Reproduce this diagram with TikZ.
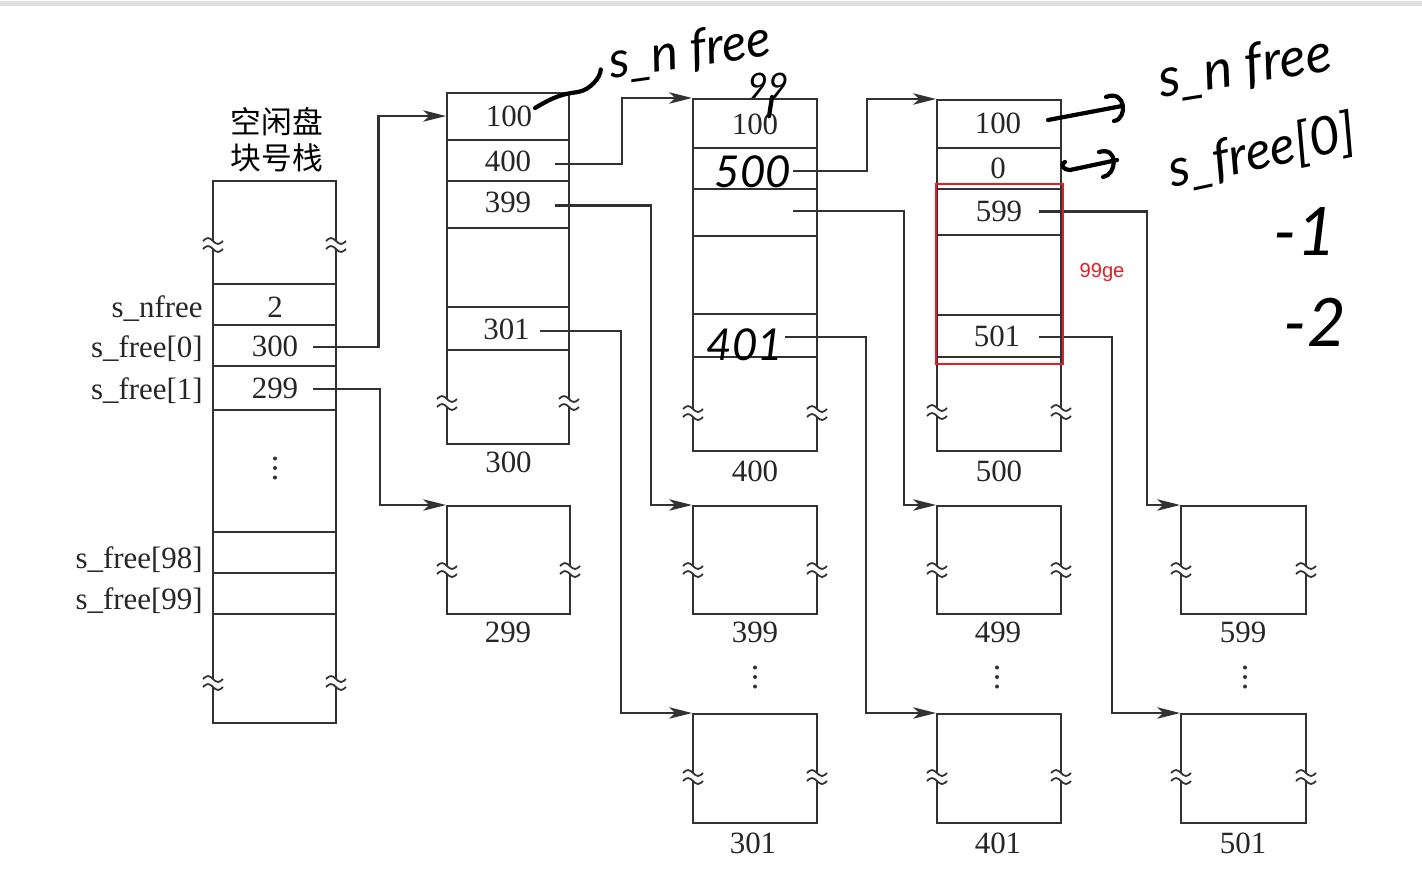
\documentclass[tikz,border=0pt]{standalone}
\usepackage{fontspec}
\setmainfont{Liberation Serif}
\newfontfamily\cjkf{Noto Sans CJK SC}
\newfontfamily\handf{Lato}
\newfontfamily\sansf{Liberation Sans}
\usetikzlibrary{arrows.meta,calc,fit}
\definecolor{redmark}{RGB}{232,28,36}
\definecolor{inkline}{RGB}{50,50,50}

\newcommand\brkmark[2]{%
  \fill[white] (#1-3.5,#2-4) rectangle (#1+3.5,#2+4);
  \draw[brkline] (#1-10,#2-4) sin (#1-5,#2-7) cos (#1,#2-4) sin (#1+5,#2-1) cos (#1+10,#2-4);
  \draw[brkline] (#1-10,#2+4) sin (#1-5,#2+1) cos (#1,#2+4) sin (#1+5,#2+7) cos (#1+10,#2+4);
}
\newcommand\vdotmark[2]{%
  \foreach \dd in {-9.5,0,9.5} \fill[inkline] (#1,#2+\dd) circle (2);
}

\tikzset{
  ln/.style={line width=1.15pt, draw=inkline},
  blk/.style={ln, rectangle, inner sep=0pt},
  con/.style={line width=1.15pt, draw=inkline, -{Stealth[length=13pt,width=6.5pt,inset=3.5pt]}},
  brkline/.style={line width=1pt, draw=inkline},
  val/.style={font=\fontsize{17.6}{20}\selectfont, inner sep=0pt, text=black!85},
  lbl/.style={val, anchor=base east},
  hand/.style={font=\handf\itshape\fontsize{#1}{#1}\selectfont, inner sep=0pt, text=black},
  hstroke/.style={line width=2.4pt, line cap=round, line join=round, draw=black},
}

\begin{document}
\begin{tikzpicture}[x=0.02cm, y=-0.02cm]
\useasboundingbox (0,0) rectangle (1422,880);
\fill[white] (0,0) rectangle (1422,880);
\fill[gray!25] (0,1) rectangle (1422,6);

% ---------- free block stack ----------
\node[font=\cjkf\fontsize{17.5}{20.5}\selectfont, align=center, inner sep=0pt] (T) at (277,140) {空闲盘\\块号栈};
\node[blk, fit={(213,181) (336,722.5)}] (S) {};
\foreach \yy in {284,325,366,410,532,573,614} \draw[ln] (213,\yy) -- (336,\yy);
\brkmark{213}{245}\brkmark{336}{245}
\brkmark{213}{683}\brkmark{336}{683}

\node[lbl] (Ln) at (203,317) {s\_nfree};
\node[lbl] (L0) at (203,357) {s\_free[0]};
\node[lbl] (L1) at (203,399) {s\_free[1]};
\node[lbl] (L98) at (203,568) {s\_free[98]};
\node[lbl] (L99) at (203,609) {s\_free[99]};

\node[val] (sn) at (275,307) {2};
\node[val] (s0) at (275,346) {300};
\node[val] (s1) at (275,388) {299};
\vdotmark{275}{468}

% ---------- block 300 ----------
\node[blk, fit={(447,93) (569,444)}] (B300) {};
\foreach \yy in {140,181,228,307,350} \draw[ln] (447,\yy) -- (569,\yy);
\brkmark{447}{403}\brkmark{569}{403}
\node[val] (v300a) at (509,116) {100};
\node[val] (v300b) at (508,161) {400};
\node[val] (v300c) at (508,202.5) {399};
\node[val] (v300d) at (506.5,329) {301};
\node[val] (n300) at (508.5,462) {300};

% ---------- block 400 ----------
\node[blk, fit={(693,99) (817,451)}] (B400) {};
\foreach \yy in {148,189,236,314,357} \draw[ln] (693,\yy) -- (817,\yy);
\brkmark{693}{413}\brkmark{817}{413}
\node[val] (v400a) at (755,124) {100};
\node[val] (n400) at (755,471) {400};
\coordinate (r400c) at (793,211);

% ---------- block 500 ----------
\node[blk, fit={(937,100) (1061,451)}] (B500) {};
\foreach \yy in {148,189,235,315,357} \draw[ln] (937,\yy) -- (1061,\yy);
\brkmark{937}{412}\brkmark{1061}{412}
\node[val] (v500a) at (998,123) {100};
\node[val] (v500b) at (998,168) {0};
\node[val] (v500c) at (999,211.5) {599};
\node[val] (v500d) at (997,336) {501};
\node[val] (n500) at (999,471) {500};

% ---------- lower blocks ----------
\node[blk, fit={(447,506) (570,614)}] (B299) {};
\node[blk, fit={(693,506) (817,614)}] (B399) {};
\node[blk, fit={(693,714) (817,823)}] (B301) {};
\node[blk, fit={(937,506) (1061,614)}] (B499) {};
\node[blk, fit={(937,714) (1061,823)}] (B401) {};
\node[blk, fit={(1181,506) (1306,614)}] (B599) {};
\node[blk, fit={(1181,714) (1306,823)}] (B501) {};
\brkmark{447}{570}\brkmark{570}{570}
\brkmark{693}{570}\brkmark{817}{570}
\brkmark{937}{570}\brkmark{1061}{570}
\brkmark{1181}{570}\brkmark{1306}{570}
\brkmark{693}{777}\brkmark{817}{777}
\brkmark{937}{777}\brkmark{1061}{777}
\brkmark{1181}{777}\brkmark{1306}{777}
\node[val] (n299) at (508,632.5) {299};
\node[val] (n399) at (755,632.5) {399};
\node[val] (n499) at (998,632.5) {499};
\node[val] (n599) at (1243,632.5) {599};
\node[val] (n301) at (753,843) {301};
\node[val] (n401) at (998,843) {401};
\node[val] (n501) at (1243,843) {501};
\vdotmark{755}{677}
\vdotmark{997}{677}
\vdotmark{1245}{677}

% ---------- handwritten values in block 400 ----------
\node[hand=25] (h500) at (753,172) {500};
\node[hand=25] (h401) at (745,345) {401};

% ---------- connectors ----------
\draw[con] ($(s0)+(38,1)$) -- ++(65.5,0) |- (B300.west |- v300a);
\draw[con] ($(s1)+(38,1)$) -- ++(67,0) |- (B299.north west);
\draw[con] ($(v300b)+(47,3)$) -- ++(67,0) |- (B400.north west);
\draw[con] ($(v300c)+(47,3)$) -- ++(96,0) |- (B399.north west);
\draw[con] ($(v300d)+(33.5,2)$) -- ++(81,0) |- (B301.north west);
\draw[con] ($(h500)+(40,-1)$) -- ++(74,0) |- (B500.north west);
\draw[con] (r400c) -- ++(111,0) |- (B499.north west);
\draw[con] ($(h401)+(40,-8)$) -- ++(81,0) |- (B401.north west);
\draw[con] ($(v500c)+(40,0)$) -- ++(108,0) |- (B599.north west);
\draw[con] ($(v500d)+(42,1)$) -- ++(73,0) |- (B501.north west);

% ---------- red mark ----------
\node[draw=redmark, line width=1.3pt, inner sep=0pt, fit={(936,184) (1063,364)}] (R) {};
\node[font=\sansf\fontsize{11.5}{13}\selectfont, text=redmark, inner sep=0pt] (tg) at (1102,273) {99ge};

% ---------- handwritten notes ----------
\node[hand=29, rotate=8] (hn1) at (690,52) {s\_n free};
\draw[hstroke] ($(v300a)+(26,-8)$) .. controls +(20,-12) and +(-15,2) .. (578,92) .. controls +(12,-2) and +(0,8) .. ($(hn1.west)+(-8,6)$);
\node[hand=20] (hn99) at (768,86) {99};
\draw[hstroke] ($(hn99.south)+(4,-2)$) -- ($(v400a.north)+(14,3)$);

\node[hand=31, rotate=9] (hn2) at (1245,68) {s\_n free};
\coordinate (a1) at (1122,106);
\draw[hstroke] ($(v500a)+(50,-3)$) -- (a1);
\draw[hstroke] ($(a1)+(-16,-9)$) .. controls +(20,-8) and +(14,-2) .. ($(a1)+(-8,15)$);

\node[hand=30, rotate=12] (hn3) at (1262,152) {s\_free[0]};
\coordinate (a2) at (1117,160);
\draw[hstroke] ($(v500b)+(67,-6)$) .. controls +(-6,3) and +(-6,0) .. ($(v500b)+(72,2)$) -- (a2);
\draw[hstroke] ($(a2)+(-18,-8)$) .. controls +(20,-6) and +(14,-2) .. ($(a2)+(-14,17)$);

\node[hand=38] (hn4) at (1305,232) {-1};
\node[hand=38] (hn5) at (1315,322) {-2};
\end{tikzpicture}
\end{document}
